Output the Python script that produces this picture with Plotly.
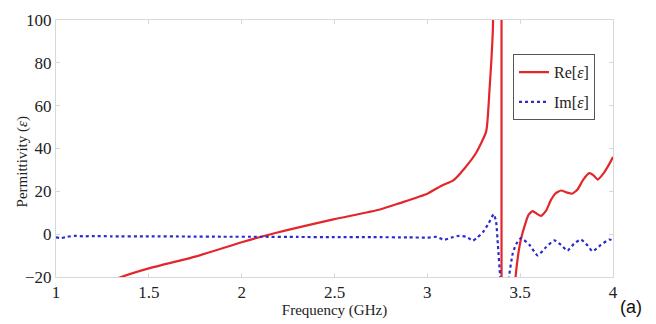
import plotly.graph_objects as go

# Re[eps] data
re_x = [1.30, 1.35, 1.5, 1.75, 2.0, 2.1, 2.25, 2.5, 2.745, 2.852, 3.0, 3.084, 3.138, 3.2, 3.263,
        3.317, 3.335, 3.353, 3.36, 3.38, 3.399, 3.401, 3.43, 3.46, 3.475, 3.5, 3.52, 3.545,
        3.567, 3.59, 3.612, 3.64, 3.666, 3.69, 3.72, 3.75, 3.78, 3.81, 3.84, 3.872, 3.895,
        3.917, 3.95, 3.975, 4.0]
re_y = [-21.5, -20, -16, -10.5, -3.8, -1.3, 2, 7, 11.5, 14.5, 18.9, 23.0, 25.0, 30.7, 38,
        48, 67.6, 95.6, 130, 400, 1000, -1000, -200, -40, -20, -4, 2.7, 9,
        10.8, 9.5, 8.5, 11, 16, 19, 20.4, 19.5, 18.9, 21, 25.5, 28.5, 27.5,
        25.5, 28.5, 32, 36]

# Im[eps] data
im_x = [1.0, 1.03, 1.06, 1.1, 1.15, 1.2, 1.3, 1.5, 1.7, 1.9, 2.1, 2.3, 2.5, 2.7, 2.9, 3.0,
        3.05, 3.09, 3.13, 3.17, 3.21, 3.245, 3.27, 3.3, 3.33, 3.357, 3.37, 3.38, 3.392, 3.40,
        3.43, 3.44, 3.46, 3.478, 3.505, 3.55, 3.594, 3.64, 3.684, 3.72, 3.755, 3.79, 3.827,
        3.86, 3.89, 3.935, 3.98, 4.0]
im_y = [-1.5, -1.8, -1.2, -0.8, -1.0, -0.9, -1.0, -1.0, -1.1, -1.2, -1.2, -1.3, -1.4, -1.4, -1.5, -1.6,
        -1.3, -2.7, -1.6, -0.8, -1.2, -3, -1.5, 1, 5, 9.3, 6, -5, -20, -40,
        -40, -20, -9, -4.7, -1.8, -5, -9.9, -6, -2.9, -5, -7.7, -4.5, -2.5,
        -5, -8, -5, -2.5, -3]

serif = "Liberation Serif"

fig = go.Figure()
fig.add_trace(go.Scatter(x=re_x, y=re_y, mode="lines", name="Re[<i>ε</i>]", legendgroup="re",
                         line=dict(color="#e3262b", width=2.2, shape="spline", smoothing=0.5)))
fig.add_trace(go.Scatter(x=im_x, y=im_y, mode="lines", name="Im[<i>ε</i>]", legendgroup="im",
                         line=dict(color="#2b2bcc", width=2.2, dash="dot", shape="spline", smoothing=0.5)))

fig.update_layout(
    width=656, height=324,
    margin=dict(l=56, r=43, t=11, b=42),
    paper_bgcolor="white", plot_bgcolor="white",
    font=dict(family=serif, color="#222", size=15),
    showlegend=True,
    legend=dict(x=0.8205, y=0.867, xanchor="left", yanchor="top",
                bordercolor="#555", borderwidth=1, bgcolor="white",
                font=dict(family=serif, size=16, color="#222"),
                tracegroupgap=6, itemwidth=30),
    xaxis=dict(range=[1, 4], tickvals=[1, 1.5, 2, 2.5, 3, 3.5, 4],
               ticktext=["1", "1.5", "2", "2.5", "3", "3.5", "4"],
               showgrid=False, zeroline=False, showline=True, linecolor="#d8d8d8", linewidth=1,
               mirror="ticks", ticks="inside", ticklen=4, tickcolor="#d8d8d8",
               tickfont=dict(family=serif, size=17),
               title=dict(text="Frequency (GHz)", font=dict(family=serif, size=15), standoff=0)),
    yaxis=dict(range=[-20, 100], tickvals=[-20, 0, 20, 40, 60, 80, 100],
               showgrid=False, zeroline=False, showline=True, linecolor="#d8d8d8", linewidth=1,
               mirror="ticks", ticks="inside", ticklen=4, tickcolor="#d8d8d8",
               tickfont=dict(family=serif, size=17)),
)

fig.add_annotation(text="Permittivity (<i>ε</i>)", xref="paper", yref="paper",
                   x=-0.061, y=0.446, xanchor="center", yanchor="middle", textangle=-90,
                   showarrow=False, font=dict(family=serif, size=15, color="#222"))

fig.add_annotation(text="(a)", xref="paper", yref="paper", x=1.0, y=-0.115,
                   xanchor="left", yanchor="middle", showarrow=False, xshift=5,
                   font=dict(family="Liberation Sans", size=18, color="#111"))

fig.write_html("out.html")
